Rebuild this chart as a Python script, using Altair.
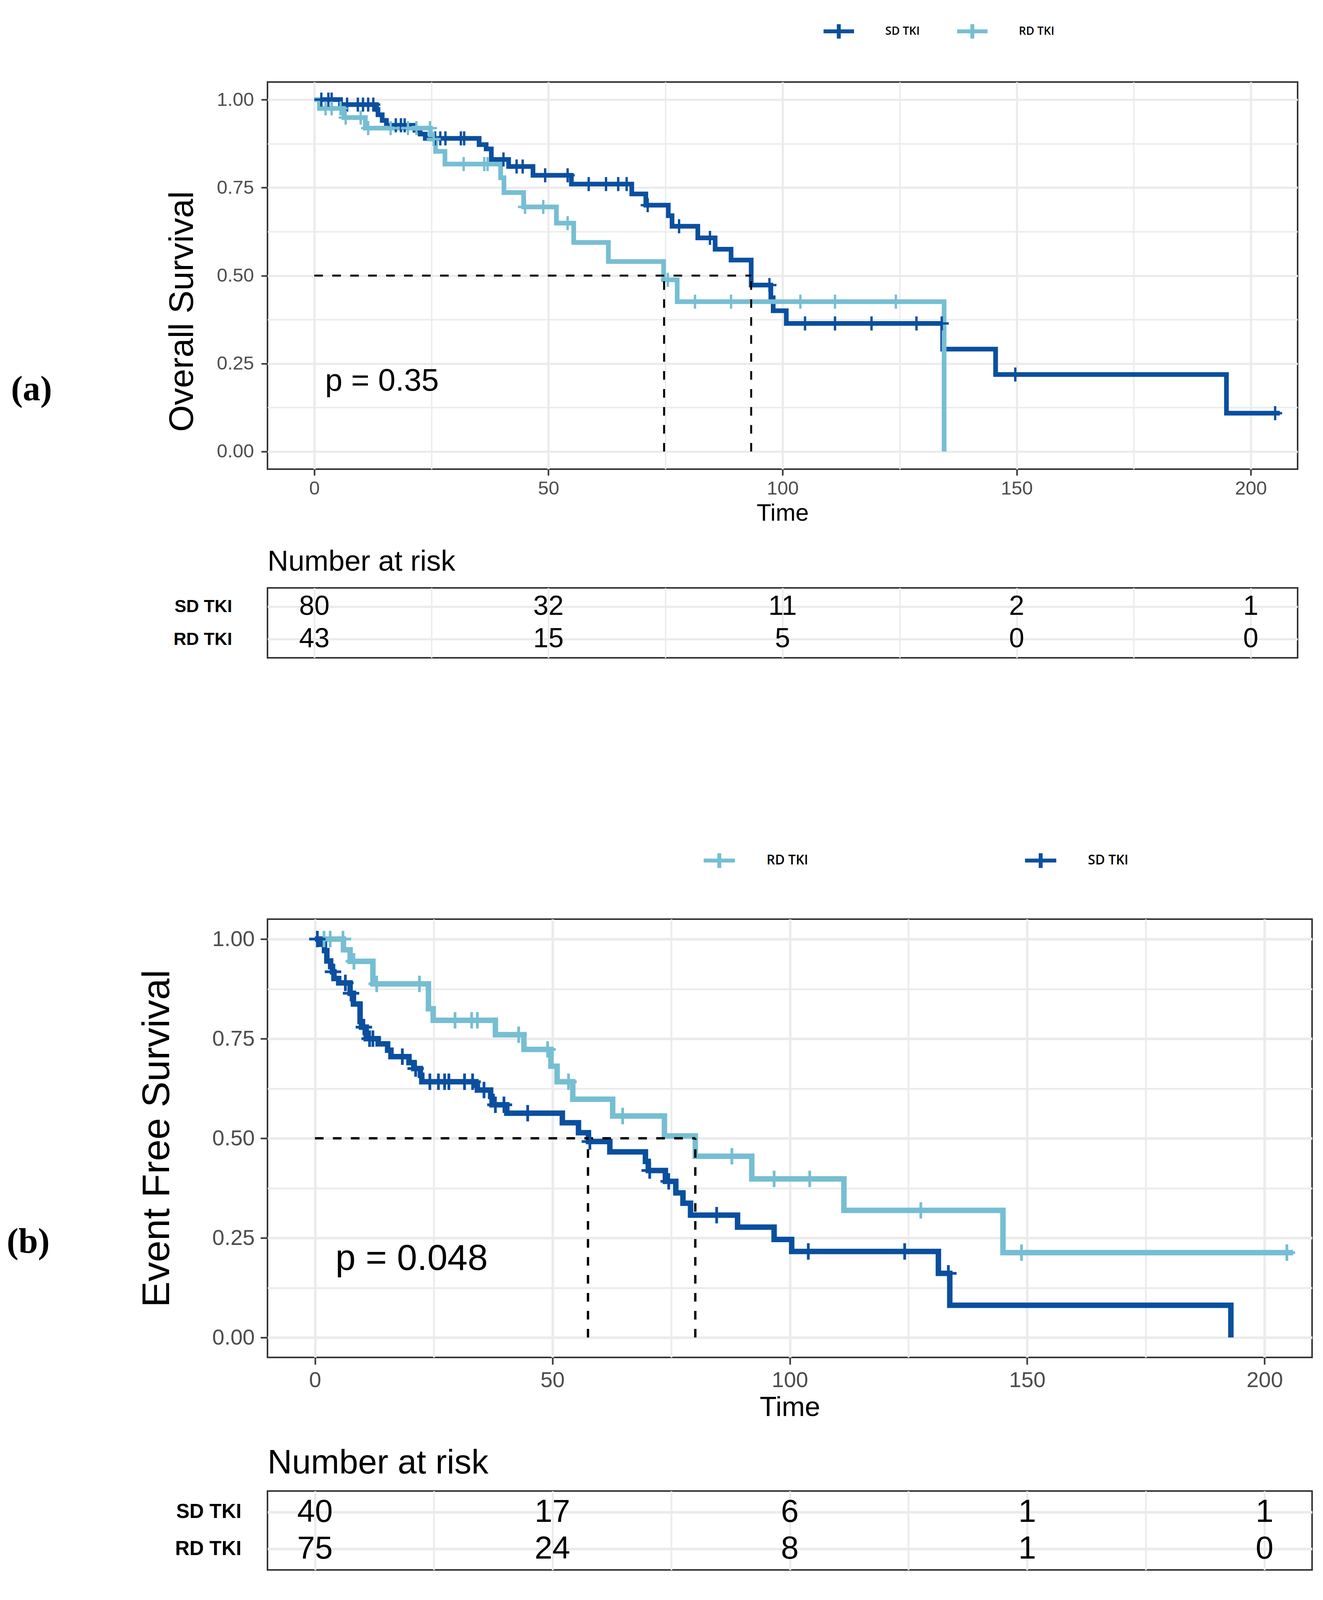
import altair as alt
import pandas as pd

# ---------------------------------------------------------
# DATA
# ---------------------------------------------------------
# (a) Overall survival: step starts (time, survival) and censoring times
os_sd_time = [0, 5.6, 13.3, 13.6, 14.5, 15.4, 21.5, 22.6, 23.7, 35.2, 36.7, 37.8, 41.5, 46.7, 54.9,
              67.8, 70.8, 75.6, 76.4, 81.9, 85.6, 89.0, 93.3, 97.5, 98.0, 100.8, 134.2, 145.5, 194.8, 206.2]
os_sd_surv = [1.0, 0.986, 0.972, 0.957, 0.941, 0.927, 0.913, 0.902, 0.89, 0.872, 0.86, 0.83, 0.81, 0.785, 0.76,
              0.732, 0.70, 0.67, 0.64, 0.607, 0.575, 0.544, 0.473, 0.437, 0.40, 0.364, 0.291, 0.219, 0.109, 0.109]
os_sd_cens = [1.5, 3.0, 3.7, 7.0, 9.3, 10.4, 11.5, 12.6, 17.4, 18.5, 19.3, 25.8, 26.9, 28.0, 31.3, 32.0,
              40.4, 43.2, 44.5, 49.3, 54.1, 58.6, 62.3, 64.9, 66.7, 71.2, 77.9, 84.5, 97.2, 104.8, 111.2,
              119.0, 128.6, 134.0, 149.7, 205.2]

os_rd_time = [0, 1.1, 6.3, 10.9, 24.8, 25.9, 27.9, 39.8, 40.5, 44.7, 51.7, 55.4, 62.8, 74.6, 77.5, 134.5]
os_rd_surv = [1.0, 0.975, 0.949, 0.919, 0.888, 0.853, 0.817, 0.778, 0.736, 0.695, 0.649, 0.594, 0.54,
              0.488, 0.426, 0.0]
os_rd_cens = [2.4, 3.7, 5.6, 6.7, 9.9, 11.5, 16.3, 20.0, 21.8, 24.7, 25.5, 31.9, 36.3, 37.0, 45.0, 48.9,
              54.1, 75.5, 81.3, 89.0, 103.8, 111.2, 124.2]

os_median_sd = 93.3
os_median_rd = 74.7
os_p_text = "p = 0.35"

# (b) Event free survival
efs_sd_time = [0, 1.2, 2.0, 2.5, 3.3, 3.7, 4.0, 5.0, 7.4, 8.1, 9.5, 9.8, 10.8, 13.3, 15.3, 16.0, 19.8,
               20.8, 22.2, 22.5, 33.9, 34.2, 37.0, 37.3, 40.4, 52.1, 55.5, 57.6, 62.1, 69.6, 70.2, 73.8,
               76.0, 77.5, 79.1, 89.0, 96.7, 100.4, 131.3, 133.7, 192.9]
efs_sd_surv = [1.0, 0.987, 0.971, 0.945, 0.931, 0.918, 0.901, 0.89, 0.864, 0.837, 0.793, 0.779, 0.75,
               0.737, 0.721, 0.705, 0.69, 0.675, 0.658, 0.642, 0.633, 0.621, 0.605, 0.584, 0.563, 0.539,
               0.514, 0.492, 0.466, 0.442, 0.419, 0.392, 0.363, 0.337, 0.307, 0.277, 0.246, 0.216, 0.161,
               0.081, 0.0]
efs_sd_cens = [0.5, 3.8, 6.4, 7.6, 10.3, 11.5, 12.2, 18.4, 21.2, 24.2, 26.0, 27.3, 28.2, 31.5, 33.2, 35.6,
               38.0, 39.8, 44.8, 57.9, 70.5, 74.5, 84.6, 103.9, 124.2, 133.4]

efs_rd_time = [0, 6.0, 7.4, 12.2, 23.9, 24.9, 38.0, 44.0, 49.7, 51.0, 54.3, 62.7, 73.6, 80.1, 92.0,
               111.4, 144.9, 206.0]
efs_rd_surv = [1.0, 0.973, 0.944, 0.8875, 0.825, 0.796, 0.76, 0.723, 0.681, 0.642, 0.598, 0.556, 0.506,
               0.455, 0.398, 0.319, 0.213, 0.213]
efs_rd_cens = [1.9, 3.2, 5.9, 8.2, 13.0, 22.0, 29.5, 33.0, 34.2, 42.9, 49.0, 53.4, 64.8, 87.8, 96.7,
               104.2, 127.6, 148.8, 204.7]

efs_median_sd = 57.5
efs_median_rd = 80.1
efs_p_text = "p = 0.048"

# Number at risk tables
risk_times = [0, 50, 100, 150, 200]
os_risk_sd = [80, 32, 11, 2, 1]
os_risk_rd = [43, 15, 5, 0, 0]
efs_risk_sd = [40, 17, 6, 1, 1]
efs_risk_rd = [75, 24, 8, 1, 0]

# ---------------------------------------------------------
# STYLE
# ---------------------------------------------------------
FONT = "Liberation Sans"
DARK = "#0A4F9F"
LIGHT = "#76BED3"
GRID = "#EBEBEB"
FRAME = "#333333"
CROSS = "M-1,0H1M0,-1V1"
LEGEND_SYMBOL = "M-1,0H1M0,-0.47V0.47"

X_VALUES = list(range(0, 201, 25))
Y_VALUES = [i / 8 for i in range(9)]
X_SCALE = alt.Scale(domain=[-10, 210], nice=False, zero=False)
Y_SCALE = alt.Scale(domain=[-0.05, 1.05], nice=False, zero=False)
X_MAJOR = "datum.value % 50 == 0"
Y_MAJOR = "(datum.value * 4) % 1 == 0"


def cond(test, yes, no):
    return {"condition": {"test": test, "value": yes}, "value": no}


def censor_frame(name, times, survs, cens):
    # y of a censoring mark = value of its own step curve at that time
    steps = pd.DataFrame({"time": pd.Series(times, dtype=float), "surv": survs})
    marks = pd.DataFrame({"time": pd.Series(sorted(cens), dtype=float)})
    out = pd.merge_asof(marks, steps, on="time")
    out["group"] = name
    return out


# ---------------------------------------------------------
# KM PLOT
# ---------------------------------------------------------
def km_plot(curves, medians, p_text, letter, st):
    names = [c[0] for c in curves]
    colors = [c[4] for c in curves]
    steps = pd.concat([pd.DataFrame({"group": n, "time": t, "surv": s}) for n, t, s, _, _ in curves])
    cens = pd.concat([censor_frame(n, t, s, c) for n, t, s, c, _ in curves])
    color_scale = alt.Scale(domain=names, range=colors)
    g_major, g_minor = st["grid"]

    x_axis = alt.Axis(
        values=X_VALUES, labelExpr=f"{X_MAJOR} ? datum.label : ''", title="Time",
        titleFont=FONT, titleFontSize=st["xtitle"], titleFontWeight="normal", titleColor="black",
        titlePadding=st["xtp"], labelFont=FONT, labelFontSize=st["tick"], labelColor="#4D4D4D",
        labelPadding=st["xlp"], labelFlush=False, labelOverlap=False, tickSize=st["ticksize"],
        tickWidth=4, tickColor=FRAME, tickOpacity=cond(X_MAJOR, 1, 0), domain=False, grid=True,
        gridColor=GRID, gridWidth=cond(X_MAJOR, g_major, g_minor),
    )
    y_extra = {"titleY": st["ytitleY"]} if "ytitleY" in st else {}
    y_axis = alt.Axis(
        values=Y_VALUES, format=".2f", labelExpr=f"{Y_MAJOR} ? datum.label : ''", title=st["ytitle_text"],
        titleFont=FONT, titleFontSize=st["ytitle"], titleFontWeight="normal", titleColor="black",
        titlePadding=st["ytp"], labelFont=FONT, labelFontSize=st["tick"], labelColor="#4D4D4D",
        labelPadding=st["ylp"], labelOverlap=False, labelFlush=False, tickSize=st["ticksize"],
        tickWidth=4, tickColor=FRAME, tickOpacity=cond(Y_MAJOR, 1, 0), domain=False, grid=True,
        gridColor=GRID, gridWidth=cond(Y_MAJOR, g_major, g_minor), **y_extra,
    )
    legend = alt.Legend(
        title=None, orient="none", legendX=st["legendX"], legendY=st["legendY"], direction="horizontal",
        symbolType=LEGEND_SYMBOL, symbolSize=st["lsize"], symbolStrokeWidth=10, symbolOpacity=1,
        labelFont="Open Sans", labelFontSize=st["lfont"], labelFontWeight=600, labelColor="black",
        labelOffset=st["loff"], columnPadding=st["lcolpad"], padding=0,
    )

    lines = alt.Chart(steps).mark_line(interpolate="step-after", strokeWidth=st["lw"]).encode(
        x=alt.X("time:Q", scale=X_SCALE, axis=x_axis),
        y=alt.Y("surv:Q", scale=Y_SCALE, axis=y_axis),
        color=alt.Color("group:N", scale=color_scale, legend=legend),
    )
    marks = alt.Chart(cens).mark_point(
        shape=CROSS, size=st["cross"], strokeWidth=st["cw"], opacity=1
    ).encode(
        x=alt.X("time:Q", scale=X_SCALE, axis=x_axis),
        y=alt.Y("surv:Q", scale=Y_SCALE, axis=y_axis),
        color=alt.Color("group:N", scale=color_scale, legend=legend),
    )
    m_lo, m_hi = min(medians), max(medians)
    med = pd.DataFrame({"time": [0, m_lo, m_hi], "time2": [m_hi, m_lo, m_hi],
                        "surv": [0.5, 0.0, 0.0], "surv2": [0.5, 0.5, 0.5]})
    rules = alt.Chart(med).mark_rule(color="black", strokeWidth=st["dw"], strokeDash=[22, 24]).encode(
        x=alt.X("time:Q", scale=X_SCALE, axis=x_axis), x2="time2:Q",
        y=alt.Y("surv:Q", scale=Y_SCALE, axis=y_axis), y2="surv2:Q",
    )
    ptext = alt.Chart(pd.DataFrame({"label": [p_text]})).mark_text(
        align="left", baseline="middle", font=FONT, fontSize=st["ptext"], color="black"
    ).encode(x=alt.datum(st["p_xy"][0]), y=alt.datum(st["p_xy"][1]), text="label:N")
    tag = alt.Chart(pd.DataFrame({"label": [letter]})).mark_text(
        align="center", baseline="middle", font="Liberation Serif", fontSize=90, fontWeight="bold",
        color="black"
    ).encode(x=alt.datum(st["tag_xy"][0]), y=alt.datum(st["tag_xy"][1]), text="label:N")

    return alt.layer(lines, rules, marks, ptext, tag).properties(width=st["w"], height=st["h"])


# ---------------------------------------------------------
# RISK TABLE
# ---------------------------------------------------------
def risk_table(rows, st):
    df = pd.concat([pd.DataFrame({"group": n, "time": risk_times, "n": v}) for n, v in rows])
    g_major, g_minor = st["grid"]
    return alt.Chart(df).mark_text(font=FONT, fontSize=st["num"], color="black").encode(
        x=alt.X("time:Q", scale=X_SCALE, axis=alt.Axis(
            values=X_VALUES, labels=False, ticks=False, domain=False, title=None, grid=True,
            gridColor=GRID, gridWidth=cond(X_MAJOR, g_minor + 0.5, g_minor))),
        y=alt.Y("group:N", sort=[n for n, _ in rows], scale=alt.Scale(padding=st["rowpad"]), axis=alt.Axis(
            title=None, ticks=False, domain=False, labelPadding=st["rlp"], labelFont=FONT,
            labelFontSize=st["rowlab"], labelFontWeight="bold", labelColor="black", grid=True,
            gridColor=GRID, gridWidth=g_major)),
        text="n:Q",
    ).properties(
        width=st["w"], height=st["th"],
        title=alt.TitleParams("Number at risk", anchor="start", frame="group", font=FONT,
                              fontSize=st["risktitle"], fontWeight="normal", color="black",
                              offset=st["toff"]),
    )


st_a = dict(w=2638, h=991, tick=49, ticksize=16, xlp=9, xtitle=61, xtp=9, ylp=19,
            ytitle_text="Overall Survival", ytitle=88, ytp=43, ytitleY=587, ptext=80, p_xy=(2.3, 0.2),
            tag_xy=(-60.4, 0.175), lw=12, cw=6, dw=5, grid=(5.5, 3.5), cross=1296,
            legendX=1419, legendY=-174, lsize=6084, lfont=29, loff=75, lcolpad=75,
            num=70, rowlab=45, rlp=91, rowpad=0.566, th=179, risktitle=74, toff=28)
st_b = dict(w=2675, h=1122, tick=56, ticksize=18, xlp=13, xtitle=71, xtp=7, ylp=15,
            ytitle_text="Event Free Survival", ytitle=99, ytp=90, ptext=93, p_xy=(4.3, 0.197),
            tag_xy=(-60.4, 0.239), lw=14, cw=7, dw=6, grid=(6.5, 4.5), cross=1764,
            legendX=1112, legendY=-195, lsize=6400, lfont=34, loff=76, lcolpad=535,
            num=82, rowlab=51, rlp=67, rowpad=0.574, th=202, risktitle=87, toff=27)

plot_a = km_plot(
    [("SD TKI", os_sd_time, os_sd_surv, os_sd_cens, DARK),
     ("RD TKI", os_rd_time, os_rd_surv, os_rd_cens, LIGHT)],
    [os_median_sd, os_median_rd], os_p_text, "(a)", st_a)
table_a = risk_table([("SD TKI", os_risk_sd), ("RD TKI", os_risk_rd)], st_a)

plot_b = km_plot(
    [("RD TKI", efs_rd_time, efs_rd_surv, efs_rd_cens, LIGHT),
     ("SD TKI", efs_sd_time, efs_sd_surv, efs_sd_cens, DARK)],
    [efs_median_sd, efs_median_rd], efs_p_text, "(b)", st_b)
table_b = risk_table([("SD TKI", efs_risk_sd), ("RD TKI", efs_risk_rd)], st_b)


def panel(plot, table, gap):
    return (
        alt.vconcat(plot, table, spacing=gap)
        .resolve_scale(x="independent", y="independent", color="independent")
        .resolve_legend(color="independent")
    )


chart = (
    alt.vconcat(panel(plot_a, table_a, 54), panel(plot_b, table_b, 60), spacing=470)
    .resolve_scale(x="independent", y="independent", color="independent")
    .resolve_legend(color="independent")
    .properties(padding={"left": 7, "top": 26, "right": 5, "bottom": 5})
    .configure(font=FONT, background="white")
    .configure_view(stroke=FRAME, strokeWidth=4)
)

chart.save("out.html", embed_options={"renderer": "svg", "actions": False})
